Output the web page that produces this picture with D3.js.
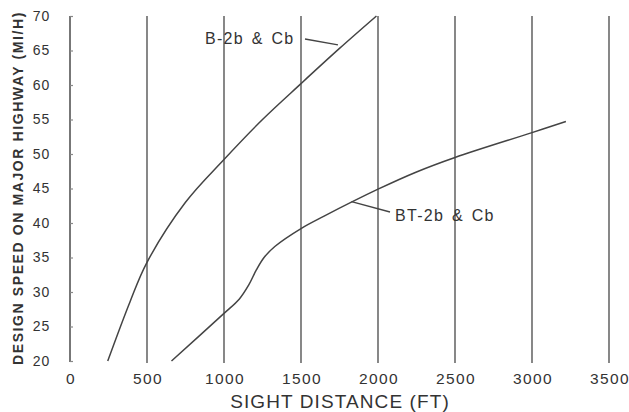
<!DOCTYPE html>
<html>
<head>
<meta charset="utf-8">
<script src="https://cdn.jsdelivr.net/npm/d3@7"></script>
<style>
  body { margin: 0; background: #fff; }
  svg { display: block; font-family: "Liberation Sans", Arial, sans-serif; }
</style>
</head>
<body>
<svg width="629" height="412"></svg>
<script>
// sight distance (ft) vs design speed (mi/h)
var xTicks = [0, 500, 1000, 1500, 2000, 2500, 3000, 3500];
var yTicks = [20, 25, 30, 35, 40, 45, 50, 55, 60, 65, 70];

var b2bDist  = [245, 390, 500, 750, 1000, 1250, 1500, 1750, 1990];
var b2bSpeed = [20, 28.6, 34.3, 43, 49.2, 55, 60.2, 65.3, 70];

var bt2bDist  = [659, 1000, 1100, 1160, 1210, 1260, 1330, 1500, 1650, 2000, 2250, 2500, 3000, 3220];
var bt2bSpeed = [20, 26.9, 29, 31, 33.2, 35, 36.6, 39.2, 41, 44.9, 47.4, 49.5, 53.1, 54.7];

var svg = d3.select("svg");

var x = d3.scaleLinear().domain([0, 3500]).range([70, 609]);
var y = d3.scaleLinear().domain([20, 70]).range([361, 16]);

var ink = "#555";

// vertical grid lines
svg.append("g")
  .selectAll("line")
  .data(xTicks.slice(1))
  .enter()
  .append("line")
  .attr("x1", d => x(d))
  .attr("x2", d => x(d))
  .attr("y1", y(70))
  .attr("y2", y(20) + 2)
  .attr("stroke", "#6a6a6a")
  .attr("stroke-width", 1.6);

// left axis with small inward ticks
var yAxis = svg.append("g")
  .attr("transform", "translate(" + x(0) + ",0)")
  .call(d3.axisRight(y).tickValues(yTicks).tickSize(3).tickFormat(""));
yAxis.select(".domain").attr("stroke", ink).attr("stroke-width", 1.6)
  .attr("d", "M0," + y(70) + "V" + (y(20) + 1));
yAxis.selectAll(".tick line").attr("stroke", "#888").attr("stroke-width", 1.2);

// y tick labels
svg.append("g")
  .selectAll("text")
  .data(yTicks)
  .enter()
  .append("text")
  .attr("x", 50)
  .attr("y", d => y(d))
  .attr("dy", "0.35em")
  .attr("text-anchor", "end")
  .style("font-size", "14px")
  .style("letter-spacing", "0.8px")
  .attr("fill", "#333")
  .text(d => d);

// x tick labels
svg.append("g")
  .selectAll("text")
  .data(xTicks)
  .enter()
  .append("text")
  .attr("x", d => x(d) + 1)
  .attr("y", 379)
  .attr("dy", "0.35em")
  .attr("text-anchor", "middle")
  .style("font-size", "15.5px")
  .style("letter-spacing", "1.4px")
  .attr("fill", "#333")
  .text(d => d);

// axis titles
svg.append("text")
  .attr("x", 340)
  .attr("y", 408)
  .attr("text-anchor", "middle")
  .style("font-size", "19px")
  .style("letter-spacing", "1.1px")
  .attr("fill", "#333")
  .text("SIGHT DISTANCE (FT)");

svg.append("text")
  .attr("transform", "translate(23," + 188 + ") rotate(-90)")
  .attr("text-anchor", "middle")
  .style("font-size", "14px")
  .style("font-weight", "bold")
  .style("letter-spacing", "1.6px")
  .attr("fill", "#333")
  .text("DESIGN SPEED ON MAJOR HIGHWAY (MI/H)");

// curves
var line = d3.line()
  .x(d => x(d[0]))
  .y(d => y(d[1]))
  .curve(d3.curveCatmullRom.alpha(0.5));

svg.append("path")
  .datum(d3.zip(b2bDist, b2bSpeed))
  .attr("d", line)
  .attr("fill", "none")
  .attr("stroke", "#444")
  .attr("stroke-width", 1.5);

svg.append("path")
  .datum(d3.zip(bt2bDist, bt2bSpeed))
  .attr("d", line)
  .attr("fill", "none")
  .attr("stroke", "#444")
  .attr("stroke-width", 1.5);

// curve labels with leaders
svg.append("text")
  .attr("x", 205)
  .attr("y", 38)
  .attr("dy", "0.35em")
  .style("font-size", "16px")
  .style("letter-spacing", "1.3px")
  .style("word-spacing", "2px")
  .attr("fill", "#333")
  .text("B-2b & Cb");
svg.append("line")
  .attr("x1", 305).attr("y1", 39)
  .attr("x2", x(1740)).attr("y2", y(65.8))
  .attr("stroke", "#444").attr("stroke-width", 1.3);

svg.append("text")
  .attr("x", 395)
  .attr("y", 215)
  .attr("dy", "0.35em")
  .style("font-size", "16px")
  .style("letter-spacing", "1.3px")
  .style("word-spacing", "2px")
  .attr("fill", "#333")
  .text("BT-2b & Cb");
svg.append("line")
  .attr("x1", 390).attr("y1", 212)
  .attr("x2", x(1828)).attr("y2", y(43.1))
  .attr("stroke", "#444").attr("stroke-width", 1.3);
</script>
</body>
</html>
